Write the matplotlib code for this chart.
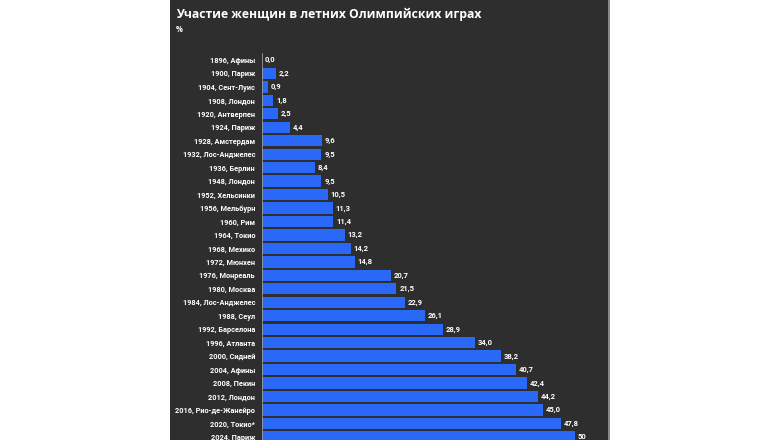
import matplotlib.pyplot as plt
from matplotlib.patches import Rectangle

games = ['1896, Афины', '1900, Париж', '1904, Сент-Луис', '1908, Лондон', '1920, Антверпен',
         '1924, Париж', '1928, Амстердам', '1932, Лос-Анджелес', '1936, Берлин', '1948, Лондон',
         '1952, Хельсинки', '1956, Мельбурн', '1960, Рим', '1964, Токио', '1968, Мехико',
         '1972, Мюнхен', '1976, Монреаль', '1980, Москва', '1984, Лос-Анджелес', '1988, Сеул',
         '1992, Барселона', '1996, Атланта', '2000, Сидней', '2004, Афины', '2008, Пекин',
         '2012, Лондон', '2016, Рио-де-Жанейро', '2020, Токио*', '2024, Париж']
share = [0.0, 2.2, 0.9, 1.8, 2.5, 4.4, 9.6, 9.5, 8.4, 9.5, 10.5, 11.3, 11.4, 13.2, 14.2,
         14.8, 20.7, 21.5, 22.9, 26.1, 28.9, 34.0, 38.2, 40.7, 42.4, 44.2, 45.0, 47.8, 50]
labels = ['0,0', '2,2', '0,9', '1,8', '2,5', '4,4', '9,6', '9,5', '8,4', '9,5', '10,5', '11,3',
          '11,4', '13,2', '14,2', '14,8', '20,7', '21,5', '22,9', '26,1', '28,9', '34,0', '38,2',
          '40,7', '42,4', '44,2', '45,0', '47,8', '50']

W, H = 780, 440
bg = '#2e2e2e'
blue = '#2a69f7'

fig = plt.figure(figsize=(W / 100, H / 100), dpi=100)
fig.patch.set_facecolor('white')

# dark panel
fig.patches.append(Rectangle((170 / W, 0), (608 - 170) / W, 1, transform=fig.transFigure,
                             facecolor=bg, edgecolor='none', zorder=-2))
fig.patches.append(Rectangle((608 / W, 0), 2 / W, 1, transform=fig.transFigure,
                             facecolor='#8a8a8a', edgecolor='none', zorder=-2))

fig.text(176 / W, 1 - 14 / H, 'Участие женщин в летних Олимпийских играх', fontsize=8.7,
         fontweight='bold', color='white', family='Open Sans', va='center', ha='left')
fig.text(176 / W, 1 - 29 / H, '%', fontsize=5.5, fontweight='bold', color='white',
         family='Open Sans', va='center', ha='left')

n = len(games)
row = 13.46
top = 60 - row / 2
bottom = top + n * row
x0, px_per = 262, 6.25
right = 600
ax = fig.add_axes([x0 / W, 1 - bottom / H, (right - x0) / W, (bottom - top) / H])
ax.set_zorder(2)
ax.set_facecolor('none')
ax.barh(range(n), share, height=0.84, color=blue)
ax.set_xlim(0, (right - x0) / px_per)
ax.set_ylim(n - 0.5, -0.5)

for i, (v, t) in enumerate(zip(share, labels)):
    ax.text(v + 0.45, i, t, color='white', fontsize=5.5, fontweight='bold', family='Roboto',
            va='center', ha='left')

ax.set_yticks(range(n))
ax.set_yticklabels(games, fontsize=5.3, fontweight='bold', family='Roboto', color='white')
ax.tick_params(axis='y', length=0, pad=5)
ax.set_xticks([])
for s in ['top', 'right', 'bottom']:
    ax.spines[s].set_visible(False)
ax.spines['left'].set_color('#9a9a9a')
ax.spines['left'].set_linewidth(0.6)

fig.savefig('out.png', dpi=100, facecolor=fig.get_facecolor())
